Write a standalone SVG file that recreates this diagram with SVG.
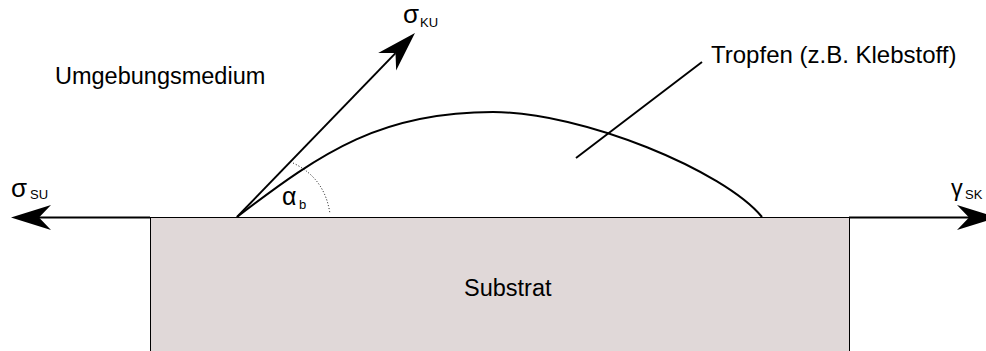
<svg xmlns="http://www.w3.org/2000/svg" width="986" height="351" viewBox="0 0 986 351">
<style>
text{font-family:"Liberation Sans",Arial,sans-serif;fill:#000}
.lbl{font-size:23.5px}
.gr{font-size:26px}
.sub{font-size:13px}
.ln{fill:none;stroke:#000;stroke-width:2}
</style>
<defs>
<marker id="ah" markerUnits="userSpaceOnUse" viewBox="-13 -14 43 28" refX="0" refY="0" markerWidth="43" markerHeight="28" orient="auto">
<path d="M28,0 L-12,-12.5 L0,0 L-12,12.5 Z" fill="#000"/>
</marker>
</defs>
<rect width="986" height="351" fill="#fff"/>
<g id="substrat">
<rect x="150.5" y="217.5" width="699" height="140" fill="#e0d8d8" stroke="#000" stroke-width="1"/>
<text class="lbl" x="464" y="296">Substrat</text>
</g>
<g id="tropfen">
<path class="ln" d="M237,217 C324,150 383,112 493,112 C583,112 724,171 762,217"/>
<text class="lbl" x="711" y="63" style="font-size:24px">Tropfen (z.B. Klebstoff)</text>
</g>
<g id="umgebung">
<text class="lbl" x="55" y="84">Umgebungsmedium</text>
</g>
<g id="connectors">
<line class="ln" x1="150" y1="217.5" x2="39" y2="217.5" marker-end="url(#ah)"/>
<line class="ln" x1="849" y1="217.5" x2="969" y2="217.5" marker-end="url(#ah)"/>
<line class="ln" x1="237" y1="217" x2="395.5" y2="53.1" marker-end="url(#ah)"/>
<path d="M293,163 Q325,178 330,214" fill="none" stroke="#000" stroke-width="1" stroke-dasharray="1,2"/>
<line class="ln" x1="576" y1="158" x2="702" y2="62"/>
</g>
<g id="labels">
<text class="gr" x="11" y="197">σ</text><text class="sub" x="30" y="199">SU</text>
<text class="gr" x="403" y="23">σ</text><text class="sub" x="420" y="27">KU</text>
<text class="lbl" x="951" y="196">γ</text><text class="sub" x="965" y="199">SK</text>
<text class="gr" x="282" y="205" style="font-size:25px">α</text><text class="sub" x="299" y="209">b</text>
</g>
</svg>
